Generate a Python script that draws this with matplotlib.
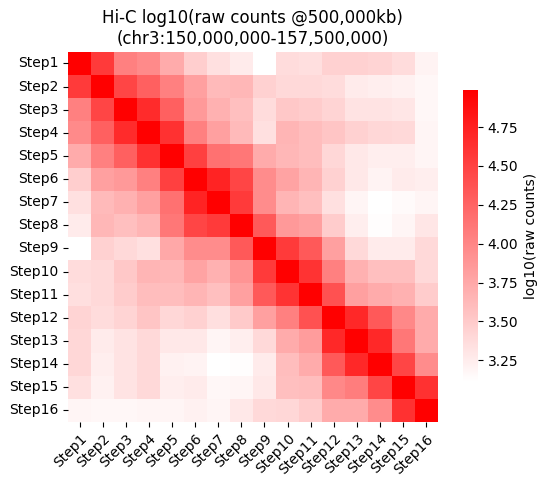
import matplotlib
matplotlib.use("Agg")
import matplotlib.pyplot as plt
import seaborn as sns
import numpy as np
from matplotlib.colors import LinearSegmentedColormap

steps = ["Step%d" % i for i in range(1, 17)]

# log10(raw counts) per bin pair
counts = [
    [4.99, 4.56, 4.05, 3.97, 3.73, 3.47, 3.34, 3.26, 3.11, 3.37, 3.35, 3.45, 3.45, 3.43, 3.37, 3.20],
    [4.56, 4.99, 4.48, 4.28, 4.05, 3.81, 3.62, 3.64, 3.45, 3.39, 3.39, 3.37, 3.26, 3.24, 3.22, 3.17],
    [4.05, 4.48, 4.99, 4.67, 4.28, 3.86, 3.69, 3.58, 3.37, 3.52, 3.49, 3.43, 3.32, 3.32, 3.30, 3.17],
    [3.97, 4.28, 4.67, 4.99, 4.63, 4.05, 3.81, 3.62, 3.34, 3.66, 3.60, 3.54, 3.45, 3.41, 3.39, 3.19],
    [3.73, 4.05, 4.28, 4.63, 4.99, 4.52, 4.16, 4.11, 3.73, 3.64, 3.60, 3.41, 3.28, 3.24, 3.24, 3.19],
    [3.47, 3.81, 3.86, 4.05, 4.52, 4.99, 4.73, 4.48, 3.96, 3.79, 3.66, 3.45, 3.28, 3.20, 3.26, 3.24],
    [3.34, 3.62, 3.69, 3.81, 4.16, 4.73, 4.99, 4.56, 3.96, 3.66, 3.58, 3.34, 3.19, 3.11, 3.15, 3.19],
    [3.26, 3.64, 3.58, 3.66, 4.11, 4.48, 4.56, 4.99, 4.33, 3.86, 3.81, 3.49, 3.24, 3.13, 3.19, 3.30],
    [3.11, 3.45, 3.39, 3.34, 3.75, 3.96, 3.96, 4.33, 4.99, 4.56, 4.33, 3.81, 3.39, 3.26, 3.26, 3.39],
    [3.37, 3.39, 3.52, 3.66, 3.64, 3.79, 3.69, 3.90, 4.56, 4.99, 4.61, 4.05, 3.69, 3.58, 3.58, 3.39],
    [3.35, 3.39, 3.49, 3.60, 3.60, 3.66, 3.58, 3.81, 4.33, 4.61, 4.99, 4.39, 3.81, 3.73, 3.69, 3.49],
    [3.43, 3.37, 3.43, 3.54, 3.41, 3.45, 3.35, 3.50, 3.81, 4.05, 4.39, 4.99, 4.69, 4.33, 3.99, 3.73],
    [3.41, 3.26, 3.32, 3.39, 3.28, 3.28, 3.19, 3.24, 3.39, 3.73, 3.84, 4.69, 4.99, 4.69, 4.11, 3.73],
    [3.41, 3.24, 3.32, 3.39, 3.22, 3.20, 3.11, 3.13, 3.26, 3.60, 3.73, 4.33, 4.69, 4.99, 4.48, 3.96],
    [3.34, 3.22, 3.32, 3.39, 3.24, 3.26, 3.17, 3.19, 3.28, 3.58, 3.60, 3.99, 4.07, 4.48, 4.99, 4.63],
    [3.19, 3.17, 3.17, 3.19, 3.19, 3.22, 3.19, 3.28, 3.39, 3.41, 3.49, 3.73, 3.73, 3.96, 4.63, 4.99],
]

cmap = LinearSegmentedColormap.from_list("white_red", ["white", "red"])

fig = plt.figure(figsize=(5.48, 4.87), dpi=100)
ax = fig.add_axes([0.124, 0.1335, 0.675, 0.760])
cax = fig.add_axes([0.845, 0.2156, 0.0274, 0.600])

sns.heatmap(np.array(counts), ax=ax, cbar_ax=cax, cmap=cmap,
            xticklabels=steps, yticklabels=steps,
            cbar_kws={"label": "log10(raw counts)"})

ax.set_xticklabels(steps, rotation=45, ha="right", rotation_mode="anchor")
ax.set_yticklabels(steps, rotation=0)
ax.set_title("Hi-C log10(raw counts @500,000kb)\n(chr3:150,000,000-157,500,000)",
             fontsize=12)

fig.savefig("out.png", dpi=100)
